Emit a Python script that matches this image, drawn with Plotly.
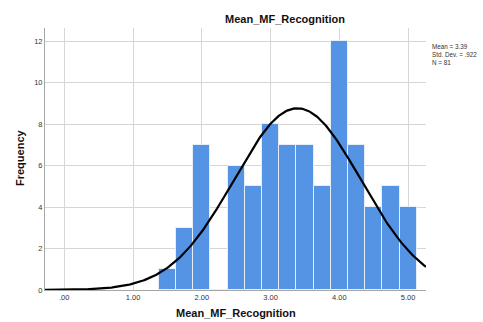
import numpy as np
import plotly.graph_objects as go

bin_centers = [1.50, 1.75, 2.00, 2.25, 2.50, 2.75, 3.00, 3.25, 3.50, 3.75, 4.00, 4.25, 4.50, 4.75, 5.00]
frequencies = [1, 3, 7, 0, 6, 5, 8, 7, 7, 5, 12, 7, 4, 5, 4]
bin_width = 0.25
mean_val = 3.39
std_val = 0.922
n_val = 81
x_tick_vals = [0, 1, 2, 3, 4, 5]
x_tick_text = [".00", "1.00", "2.00", "3.00", "4.00", "5.00"]
y_tick_vals = [0, 2, 4, 6, 8, 10, 12]

x_range = [-0.28, 5.26]
y_range = [0, 12.63]

xs = np.linspace(x_range[0], x_range[1], 300)
ys = n_val * bin_width * np.exp(-0.5 * ((xs - mean_val) / std_val) ** 2) / (std_val * np.sqrt(2 * np.pi))

font = "Liberation Sans, Arial, sans-serif"
W, H = 483, 322
ML, MR, MT, MB = 45, 57, 28, 32
PW, PH = W - ML - MR, H - MT - MB

fig = go.Figure()
fig.add_trace(go.Bar(
    x=bin_centers, y=frequencies, width=bin_width,
    marker=dict(color="#5593E4", line=dict(color="#E6EEF9", width=1)),
    showlegend=False, hoverinfo="skip",
))
fig.add_trace(go.Scatter(
    x=xs, y=ys, mode="lines",
    line=dict(color="#000000", width=2.2),
    showlegend=False, hoverinfo="skip",
))

fig.update_layout(
    width=W, height=H,
    margin=dict(l=ML, r=MR, t=MT, b=MB, autoexpand=False),
    paper_bgcolor="white", plot_bgcolor="white",
    font=dict(family=font, color="#222222"),
    bargap=0,
    title=dict(text="<b>Mean_MF_Recognition</b>", x=285 / W, xanchor="center",
               y=1 - 19 / H, yanchor="middle", font=dict(size=11, family=font, color="#111111")),
    xaxis=dict(
        range=x_range, tickvals=x_tick_vals, ticktext=x_tick_text,
        showgrid=True, gridcolor="#D6D6D6", gridwidth=1,
        showline=True, linecolor="#A6A6A6", linewidth=1,
        zeroline=False, ticks="", tickfont=dict(size=7.5, family=font, color="#333333"),
        automargin=False,
    ),
    yaxis=dict(
        range=y_range, tickvals=y_tick_vals,
        showgrid=True, gridcolor="#D6D6D6", gridwidth=1,
        showline=True, linecolor="#A6A6A6", linewidth=1,
        zeroline=False, ticks="", tickfont=dict(size=7.5, family=font, color="#333333"),
        automargin=False,
    ),
)

# axis titles
fig.add_annotation(
    xref="paper", yref="paper", x=(236 - ML) / PW, y=-(313 - (H - MB)) / PH,
    xanchor="center", yanchor="middle", showarrow=False,
    text="<b>Mean_MF_Recognition</b>", font=dict(size=11, family=font, color="#111111"),
)
fig.add_annotation(
    xref="paper", yref="paper", x=-(ML - 20) / PW, y=(H - MB - 158) / PH,
    xanchor="center", yanchor="middle", showarrow=False, textangle=-90,
    text="<b>Frequency</b>", font=dict(size=11, family=font, color="#111111"),
)
fig.add_annotation(
    xref="paper", yref="paper", x=1.01, y=1 - (41 - MT) / PH,
    xanchor="left", yanchor="top", align="left", showarrow=False,
    text=f"Mean = {mean_val:.2f}<br>Std. Dev. = .{int(round(std_val*1000))}<br>N = {n_val}",
    font=dict(size=6.3, family=font, color="#333333"),
)

fig.write_html("out.html", config={"displayModeBar": False},
               post_script="document.body.style.margin='0';document.body.style.overflow='hidden';")
